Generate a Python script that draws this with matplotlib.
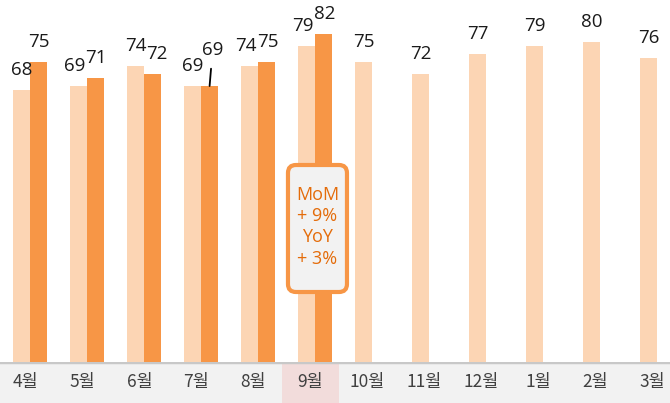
"""Monthly index chart — this year vs last year, with 9월 callout."""

import matplotlib
matplotlib.use("Agg")
import matplotlib.pyplot as plt
from matplotlib.patches import FancyBboxPatch

# ---------------------------------------------------------------------------
# Data
# ---------------------------------------------------------------------------

MONTHS = ["4월", "5월", "6월", "7월", "8월", "9월", "10월", "11월", "12월", "1월", "2월", "3월"]
PREV_YEAR = [68, 69, 74, 69, 74, 79, 75, 72, 77, 79, 80, 76]
THIS_YEAR = [75, 71, 72, 69, 75, 82]
HIGHLIGHT = 5  # 9월
CALLOUT_TEXT = "MoM\n+ 9%\nYoY\n+ 3%"

# label nudges in pixels (dx, dy) where labels would collide
PREV_NUDGE = {1: (-4, 0), 4: (-4, 0), 5: (-4, 0)}
THIS_NUDGE = {2: (4, 0), 4: (1, 0), 5: (1, 0)}
LEADER_IDX = 3  # this-year label lifted with a leader line

# ---------------------------------------------------------------------------
# Style
# ---------------------------------------------------------------------------

LIGHT = "#fcd5b4"
DARK = "#f79646"
TEXT_ORANGE = "#e46c0a"
STRIP_BG = "#f2f2f2"
STRIP_HL = "#f2dcdb"
BAR_W = 0.3
PAIR_SHIFT = 0.08
NUM_FONT = ["Open Sans", "DejaVu Sans"]
KR_FONT = ["Noto Sans CJK KR", "DejaVu Sans"]
NUM_SIZE = 13.5

W, H = 670, 403
STRIP_PX = 41

fig = plt.figure(figsize=(W / 100, H / 100), dpi=100)
ax = fig.add_axes([0, STRIP_PX / H, 1, 1 - STRIP_PX / H])
ax_lab = fig.add_axes([0, 0, 1, STRIP_PX / H])

xlim = (-0.447, 11.307)
n = len(MONTHS)
xs = list(range(n))

# ---------------------------------------------------------------------------
# Bars
# ---------------------------------------------------------------------------

prev_x = [i + PAIR_SHIFT - BAR_W / 2 for i in xs]
this_x = [i + PAIR_SHIFT + BAR_W / 2 for i in xs[: len(THIS_YEAR)]]

ax.bar(prev_x, PREV_YEAR, width=BAR_W, color=LIGHT, zorder=2)
ax.bar(this_x, THIS_YEAR, width=BAR_W, color=DARK, zorder=2)

for i, (x, v) in enumerate(zip(prev_x, PREV_YEAR)):
    dx, dy = PREV_NUDGE.get(i, (0, 0))
    ax.annotate(str(v), (x, v), xytext=(dx, 15 + dy), textcoords="offset pixels",
                ha="center", va="baseline", fontsize=NUM_SIZE, color="#1a1a1a",
                family=NUM_FONT, zorder=4)

for i, (x, v) in enumerate(zip(this_x, THIS_YEAR)):
    if i == LEADER_IDX:
        ax.annotate(str(v), (x, v), xytext=(3, 31), textcoords="offset pixels",
                    ha="center", va="baseline", fontsize=NUM_SIZE, color="#1a1a1a",
                    family=NUM_FONT, zorder=4,
                    arrowprops=dict(arrowstyle="-", color="#000000", lw=1.3,
                                    shrinkA=5, shrinkB=0))
        continue
    dx, dy = THIS_NUDGE.get(i, (0, 0))
    ax.annotate(str(v), (x, v), xytext=(dx, 15 + dy), textcoords="offset pixels",
                ha="center", va="baseline", fontsize=NUM_SIZE, color="#1a1a1a",
                family=NUM_FONT, zorder=4)

# ---------------------------------------------------------------------------
# Callout on the highlighted month
# ---------------------------------------------------------------------------

box_x0, box_x1 = HIGHLIGHT - 0.395, HIGHLIGHT + 0.64
box_y0, box_y1 = 17.5, 49.25
callout = FancyBboxPatch((box_x0, box_y0), box_x1 - box_x0, box_y1 - box_y0,
                         boxstyle="round,pad=0,rounding_size=0.14",
                         mutation_aspect=14.25, fc=STRIP_BG, ec=DARK, lw=3, zorder=5)
ax.add_patch(callout)
ax.text((box_x0 + box_x1) / 2, (box_y0 + box_y1) / 2 + 0.4, CALLOUT_TEXT,
        ha="center", va="center", fontsize=13, color=TEXT_ORANGE,
        family=NUM_FONT, linespacing=1.22, zorder=6)

ax.set_xlim(*xlim)
ax.set_ylim(0, 90.5)
ax.axis("off")

# ---------------------------------------------------------------------------
# Category strip
# ---------------------------------------------------------------------------

ax_lab.set_facecolor(STRIP_BG)
ax_lab.set_xlim(*xlim)
ax_lab.set_ylim(0, 1)
ax_lab.axvspan(HIGHLIGHT - 0.5, HIGHLIGHT + 0.5, color=STRIP_HL, lw=0)
ax_lab.axhline(1, color="#c8c8c8", lw=2.5)
for i, m in enumerate(MONTHS):
    ax_lab.text(i, 0.52, m, ha="center", va="center", fontsize=12.5,
                color="#404040", family=KR_FONT)
ax_lab.set_xticks([])
ax_lab.set_yticks([])
for s in ax_lab.spines.values():
    s.set_visible(False)

fig.savefig("out.png", dpi=100, facecolor="white")
